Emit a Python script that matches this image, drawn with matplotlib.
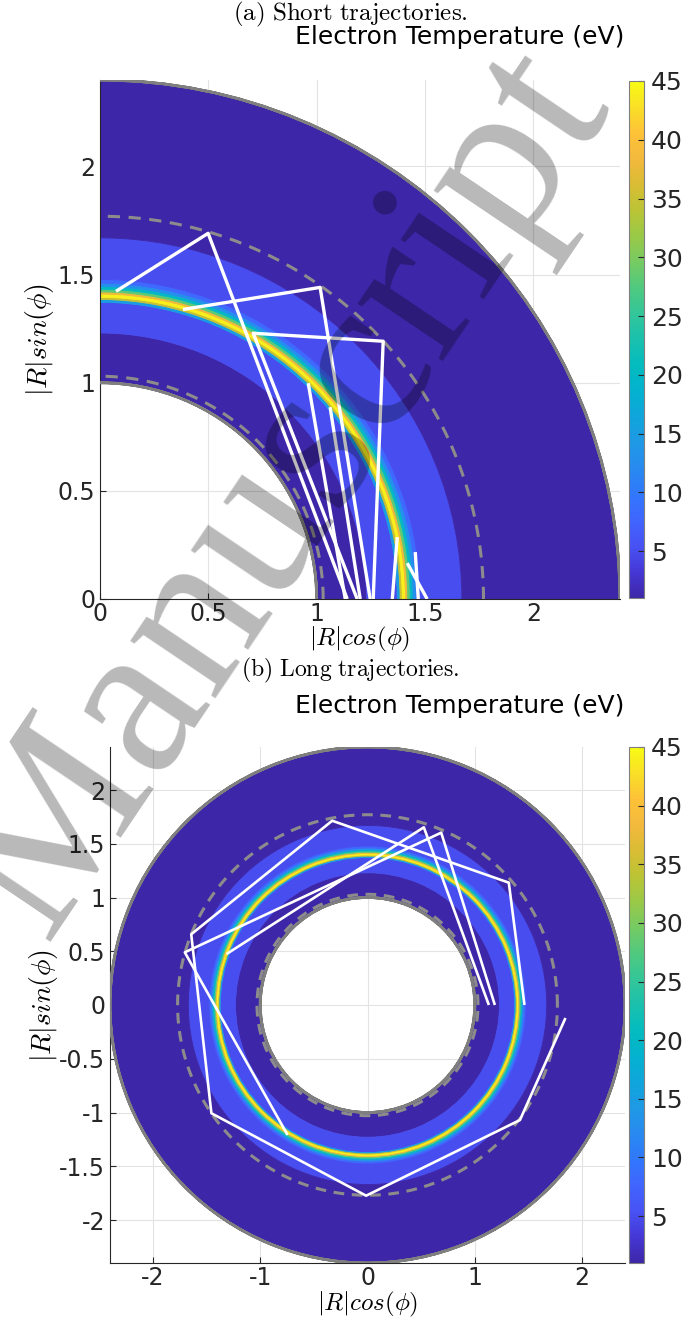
import numpy as np
import matplotlib
matplotlib.use('Agg')
import matplotlib.pyplot as plt
from matplotlib.patches import Wedge
from matplotlib.collections import PatchCollection
from matplotlib.colors import LinearSegmentedColormap, Normalize

plt.rcParams['mathtext.fontset'] = 'cm'
plt.rcParams['font.family'] = 'DejaVu Sans'

# radial temperature profile (ring edges in |R|, band temperature in eV)
ring_edges = [1.00, 1.23, 1.372, 1.385, 1.395, 1.410, 1.420, 1.432, 1.445, 1.46, 1.478, 1.67, 2.40]
ring_temp = [1, 5, 15, 35, 44, 38, 28, 20, 13, 8, 5, 1]
wall_r = [1.0, 2.4]
dashed_r = [1.03, 1.77]
t_min, t_max = 1, 45
cbar_ticks = [5, 10, 15, 20, 25, 30, 35, 40, 45]

# (a) short trajectories, (x, y) points
short_traj = [
    [(0.074, 1.423), (0.499, 1.691), (1.141, 0.0)],
    [(1.187, 0.0), (0.707, 1.229), (1.307, 1.192), (1.261, 0.0)],
    [(0.383, 1.339), (1.016, 1.441), (1.247, 0.0)],
    [(0.961, 0.998), (1.132, 0.0)],
    [(1.062, 0.887), (1.201, 0.0)],
    [(1.372, 0.286), (1.349, 0.0)],
    [(1.455, 0.217), (1.469, 0.0)],
    [(1.418, 0.166), (1.510, 0.0)],
]

# (b) long trajectories
long_traj = [
    [(1.845, -0.121), (1.421, -1.07), (-0.013, -1.774), (-1.455, -1.007),
     (-1.643, 0.658), (-0.329, 1.714), (1.317, 1.138), (1.463, 0.0)],
    [(-1.314, 0.474), (0.525, 1.653), (1.131, 0.0)],
    [(-0.745, -1.209), (-1.703, 0.49), (0.687, 1.603), (1.187, 0.0)],
]

parula_pts = [
    (0.2422, 0.1504, 0.6603), (0.2710, 0.2180, 0.8400), (0.2810, 0.3228, 0.9579),
    (0.2500, 0.3980, 0.9950), (0.1900, 0.4700, 0.9900), (0.1580, 0.5400, 0.9400),
    (0.1200, 0.6000, 0.9000), (0.0600, 0.6500, 0.8600), (0.0150, 0.6980, 0.8100),
    (0.0100, 0.7350, 0.7500), (0.1000, 0.7550, 0.6800), (0.2000, 0.7750, 0.6000),
    (0.3100, 0.7900, 0.5000), (0.4600, 0.7950, 0.3900), (0.6000, 0.7880, 0.2800),
    (0.7300, 0.7700, 0.2100), (0.8500, 0.7400, 0.2000), (0.9500, 0.7250, 0.2400),
    (0.9950, 0.7600, 0.2200), (0.9750, 0.8750, 0.1500), (0.9769, 0.9839, 0.0805),
]
parula = LinearSegmentedColormap.from_list('parula', parula_pts, N=256)
norm = Normalize(t_min, t_max)

W, H = 700, 1328
fig = plt.figure(figsize=(W / 100, H / 100), dpi=100)


def px(l, t, w, h):
    return [l / W, 1 - (t + h) / H, w / W, h / H]


def panel(ax, theta1, theta2, trajs, lw_traj, dash):
    pats = [Wedge((0, 0), ring_edges[i + 1], theta1, theta2,
                  width=ring_edges[i + 1] - ring_edges[i])
            for i in range(len(ring_temp))]
    pc = PatchCollection(pats, cmap=parula, norm=norm, edgecolor='face',
                         linewidth=0.6, zorder=2)
    pc.set_array(np.array(ring_temp, dtype=float))
    ax.add_collection(pc)
    for r in wall_r:
        ax.add_patch(Wedge((0, 0), r, theta1, theta2, width=0, fill=False,
                           edgecolor='#7f7f7f', lw=2.0, zorder=3))
    th = np.linspace(np.radians(theta1), np.radians(theta2), 400)
    for r in dashed_r:
        ax.plot(r * np.cos(th), r * np.sin(th), color='#8c8c8c', lw=2.2,
                dashes=dash, zorder=3)
    for tr in trajs:
        a = np.array(tr)
        ax.plot(a[:, 0], a[:, 1], color='white', lw=lw_traj, zorder=4,
                solid_capstyle='butt')
    ax.grid(True, color='#e3e3e3', lw=0.8, zorder=0)
    ax.set_axisbelow(True)
    for s in ['top', 'right']:
        ax.spines[s].set_visible(False)
    for s in ['left', 'bottom']:
        ax.spines[s].set_color('#262626')
        ax.spines[s].set_linewidth(0.8)
    ax.tick_params(direction='in', length=4, labelsize=17, colors='#262626',
                   width=0.8)
    return pc


def add_cbar(cax, pc):
    cb = fig.colorbar(pc, cax=cax, ticks=cbar_ticks)
    cb.outline.set_edgecolor('#7f7f7f')
    cb.outline.set_linewidth(0.8)
    cb.ax.tick_params(labelsize=18, direction='in', length=4, pad=5,
                      colors='#262626')
    return cb


# ---- panel (a)
ax1 = fig.add_axes(px(100, 80, 520, 519))
pc1 = panel(ax1, 0, 90, short_traj, 2.4, (4, 2.8))
ax1.set_xlim(0, 2.4)
ax1.set_ylim(0, 2.4)
ax1.set_xticks([0, 0.5, 1, 1.5, 2])
ax1.set_xticklabels(['0', '0.5', '1', '1.5', '2'])
ax1.set_yticks([0, 0.5, 1, 1.5, 2])
ax1.set_yticklabels(['0', '0.5', '1', '1.5', '2'])
ax1.tick_params(axis='x', pad=2)
ax1.set_xlabel(r'$|R|cos(\phi)$', fontsize=18, labelpad=-0.5)
ax1.set_ylabel(r'$|R|sin(\phi)$', fontsize=20, labelpad=1)
cax1 = fig.add_axes(px(629, 81, 15, 517))
add_cbar(cax1, pc1)

# ---- panel (b)
ax2 = fig.add_axes(px(110, 747, 515, 516))
pc2 = panel(ax2, 0, 360, long_traj, 1.9, (3.5, 2.5))
ax2.set_xlim(-2.4, 2.4)
ax2.set_ylim(-2.4, 2.4)
ax2.set_xticks([-2, -1, 0, 1, 2])
ax2.set_xticklabels(['-2', '-1', '0', '1', '2'])
ax2.set_yticks([-2, -1.5, -1, -0.5, 0, 0.5, 1, 1.5, 2])
ax2.set_yticklabels(['-2', '-1.5', '-1', '-0.5', '0', '0.5', '1', '1.5', '2'])
ax2.tick_params(axis='x', pad=2)
ax2.set_xlabel(r'$|R|cos(\phi)$', fontsize=18, labelpad=0)
ax2.set_ylabel(r'$|R|sin(\phi)$', fontsize=20, labelpad=-1)
cax2 = fig.add_axes(px(629, 747, 15, 516))
add_cbar(cax2, pc2)

# captions and titles
fig.text(0.5, 1 - 14 / H, r'$\mathrm{(a)\ Short\ trajectories.}$', ha='center',
         va='center', fontsize=18)
fig.text(0.5, 1 - 670 / H, r'$\mathrm{(b)\ Long\ trajectories.}$', ha='center',
         va='center', fontsize=17)
fig.text(460 / W, 1 - 37 / H, 'Electron Temperature (eV)', ha='center',
         va='center', fontsize=18, color='black')
fig.text(460 / W, 1 - 706 / H, 'Electron Temperature (eV)', ha='center',
         va='center', fontsize=18, color='black')

# watermark
fig.text(283 / W, 1 - 492 / H, 'Manuscript', rotation=56, rotation_mode='anchor',
         ha='center', va='center', fontsize=160, family='Liberation Serif',
         color='black', alpha=0.28, zorder=20)

fig.savefig('out.png', dpi=100)
